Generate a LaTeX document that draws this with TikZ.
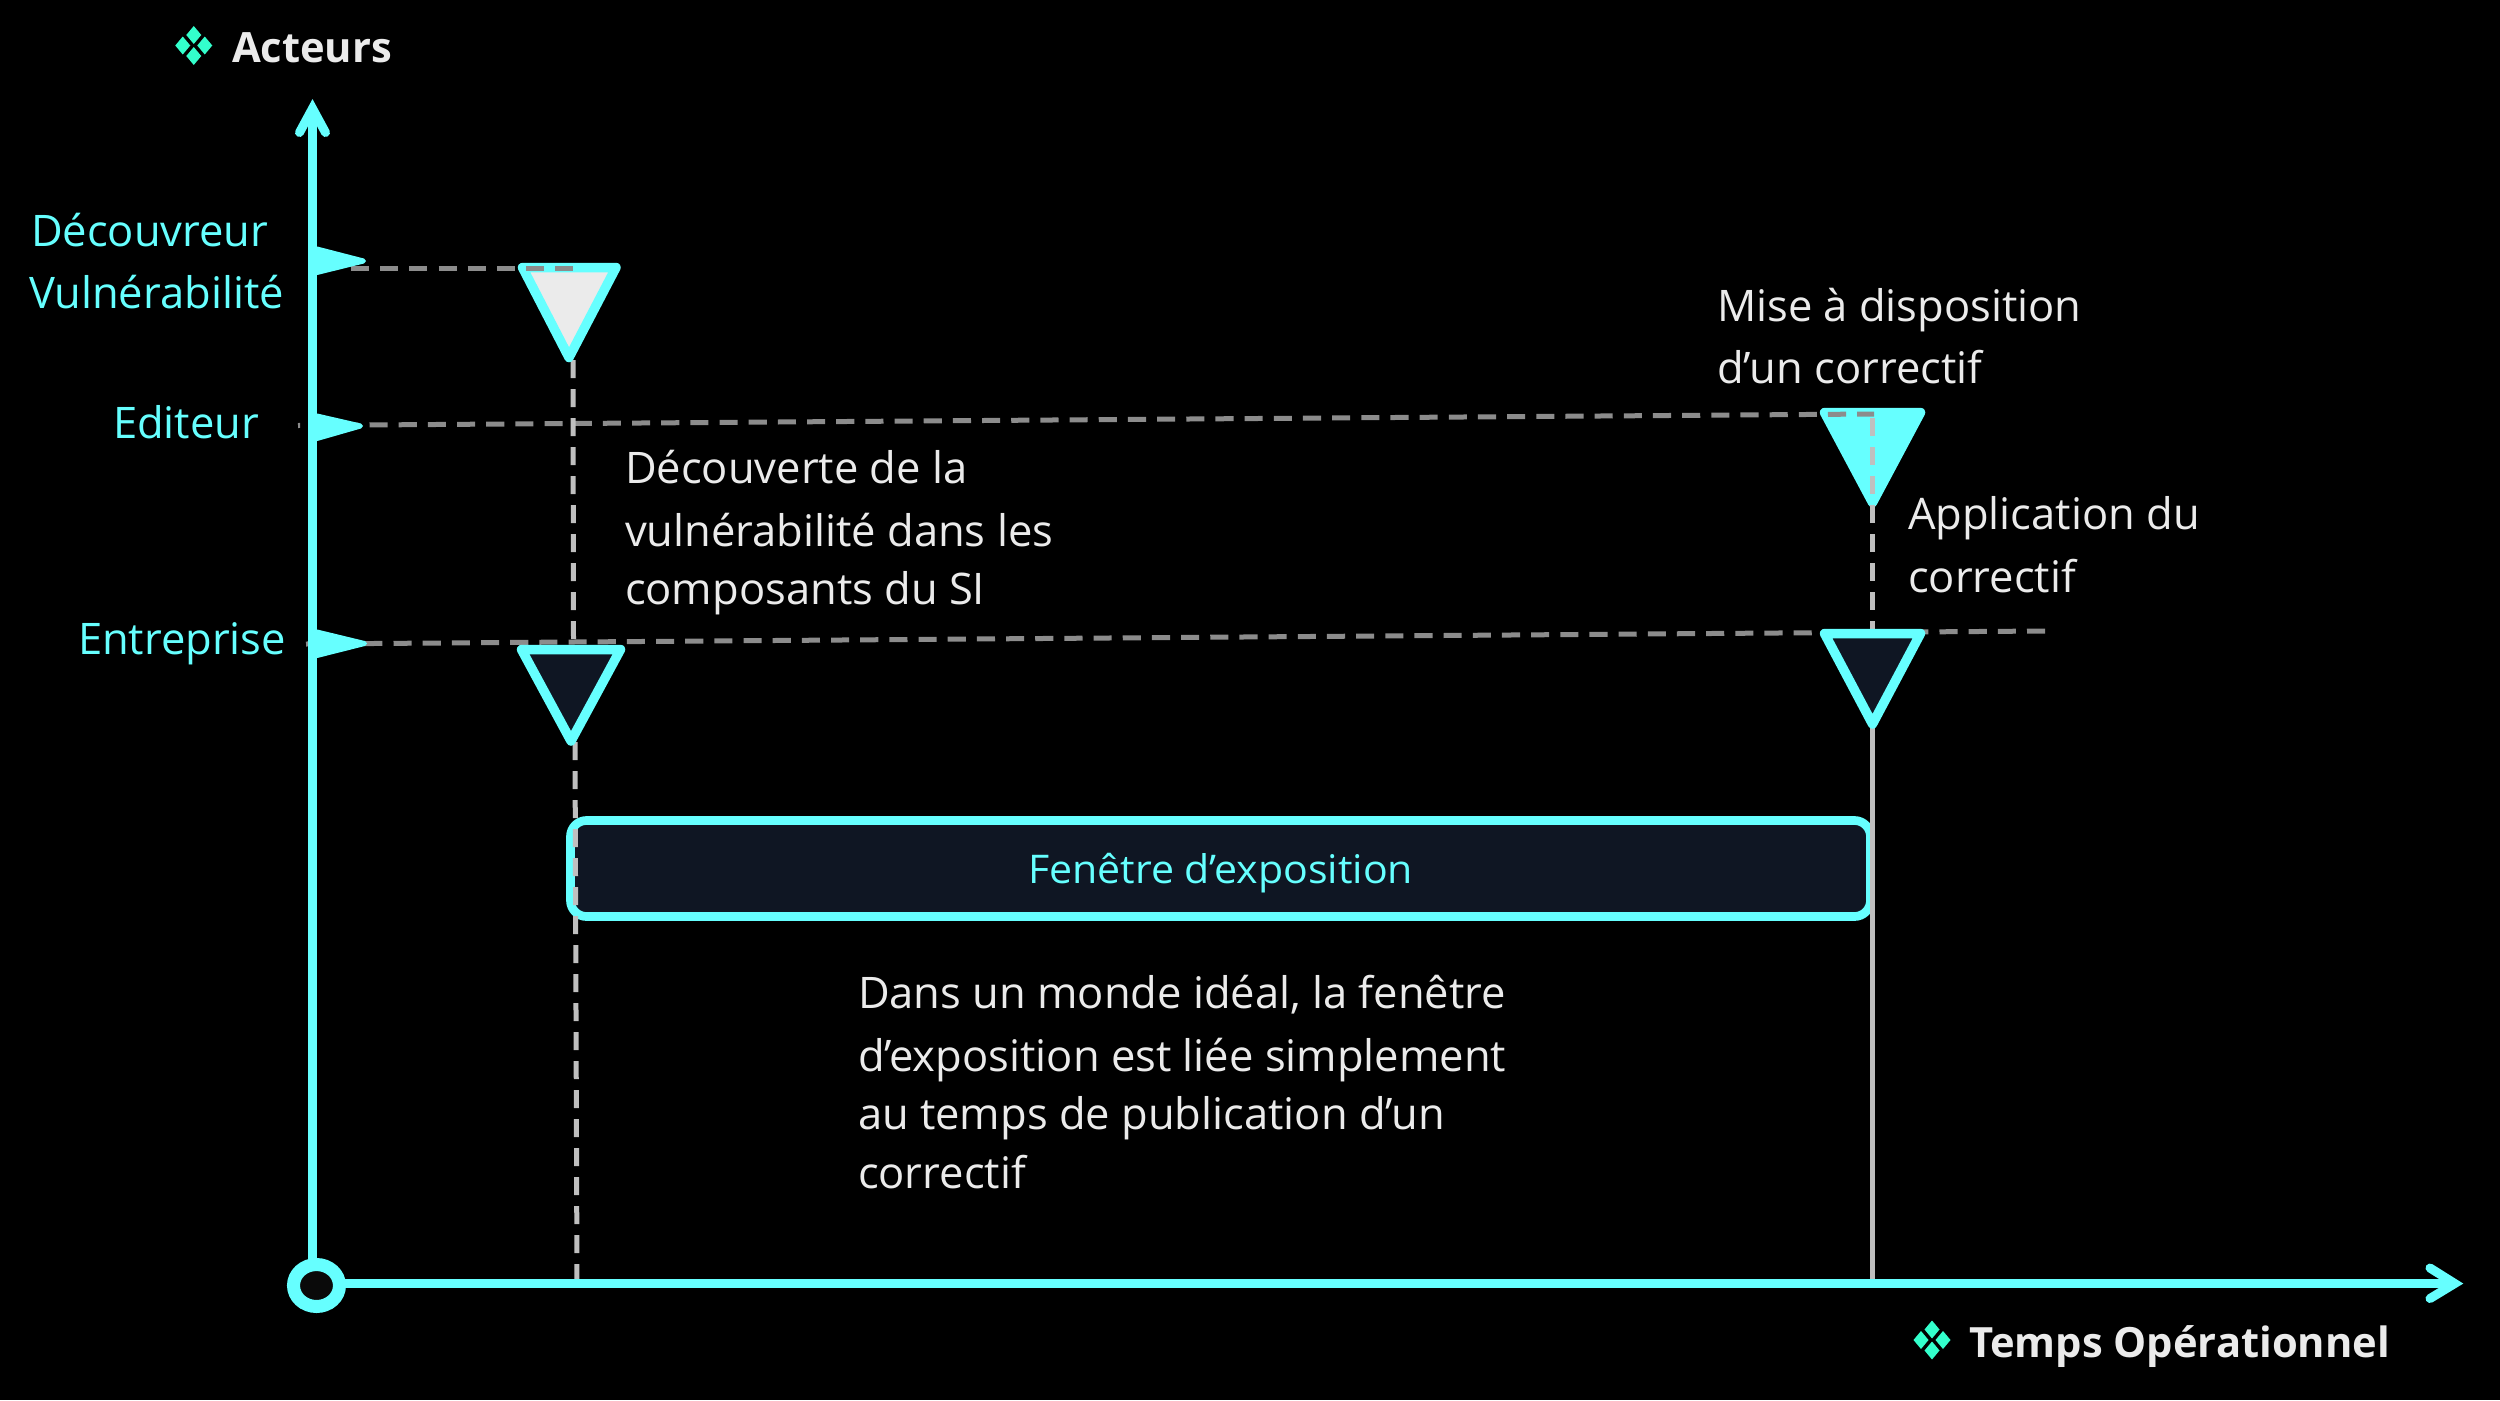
\documentclass[tikz,border=0pt]{standalone}
\usepackage{fontspec}
\setmainfont{Open Sans}
\newfontfamily\wide[FakeStretch=1.04]{Open Sans}
\definecolor{cyanline}{HTML}{66FFFF}
\definecolor{bgdark}{HTML}{0F1623}
\definecolor{greyh}{HTML}{8C8C8C}
\definecolor{greyv}{HTML}{BFBFBF}
\definecolor{txt}{HTML}{EBEBEB}
\definecolor{mint}{HTML}{33FFCC}
\tikzset{
 body/.style={anchor=base west,inner sep=0pt,outer sep=0pt,text=txt,yshift=-1pt,font=\fontsize{43.5}{43.5}\selectfont},
 actor/.style={body,text=cyanline},
 windowlabel/.style={body,text=cyanline,font=\wide\fontsize{39.5}{39.5}\selectfont},
 head/.style={body,font=\bfseries\fontsize{41.7}{41.7}\selectfont},
 axisline/.style={draw=cyanline,line width=9pt},
 chevron/.style={draw=cyanline,line width=9pt,line cap=round,miter limit=10},
 flag/.style={fill=cyanline,draw=cyanline,line width=5pt,line join=round},
 tri/.style={draw=cyanline,line width=9.5pt,line join=round},
 hdash/.style={draw=greyh,line width=5pt,dash pattern=on 18.1pt off 11.07pt},
 vdash/.style={draw=greyv,line width=5pt,dash pattern=on 18pt off 11pt},
 vsolid/.style={draw=greyv,line width=5pt},
 gem/.style={fill=mint,draw=none},
}
\newcommand{\gemicon}[2]{%
 \foreach \dx/\dy in {0/-10.5,-11/0,11/0,0/10.5}{
  \fill[gem] (#1+\dx-7.5,#2+\dy) -- (#1+\dx,#2+\dy-9) -- (#1+\dx+7.5,#2+\dy) -- (#1+\dx,#2+\dy+9) -- cycle;
 }}
\begin{document}
\begin{tikzpicture}[x=1pt,y=-1pt]
\fill[black] (0,0) rectangle (2500,1400);
\useasboundingbox (0,0) rectangle (2500,1400);
% named points
\coordinate (o) at (312.5,1283.5);
\coordinate (ytop) at (312.5,108);
\coordinate (xend) at (2455,1283.5);
\coordinate (d1a) at (351,268); \coordinate (d1b) at (574,268);
\coordinate (d2a) at (298,425.5); \coordinate (d2b) at (1874,414);
\coordinate (d3a) at (306,644); \coordinate (d3b) at (2045,631);
\coordinate (v1a) at (573,360); \coordinate (v1b) at (573.5,640);
\coordinate (v2a) at (575,742); \coordinate (v2b) at (577,1282);
\coordinate (v3a) at (1872.5,418); \coordinate (v3b) at (1872.5,630);
\coordinate (v4a) at (1872.5,726); \coordinate (v4b) at (1872.5,1282);
% lines under
\draw[hdash] (d3a) -- (d3b);
% triangle 2
\draw[tri,fill=cyanline] (1824.5,412.5) -- (1920.5,412.5) -- (1872.5,502.5) -- cycle;
\draw[hdash,dash phase=16pt] (d2a) -- (d2b);
\draw[vdash] (v1a) -- (v1b);
\draw[vdash] (v3a) -- (v3b);
% triangle 1
\draw[tri,fill=txt] (522.5,267.5) -- (616,267.5) -- (569,357.5) -- cycle;
\draw[hdash] (d1a) -- (d1b);
% exposure box
\draw[cyanline,fill=bgdark,line width=8.7pt,rounded corners=16pt] (570.5,820.5) rectangle (1870.5,916.5);
\draw[vdash] (v2a) -- (v2b);
\draw[vsolid] (v4a) -- (v4b);
% triangles 3,4
\draw[tri,fill=bgdark] (521.5,649.5) -- (620.5,649.5) -- (571,741) -- cycle;
\draw[tri,fill=bgdark] (1824.5,633.5) -- (1920.5,633.5) -- (1872.5,724) -- cycle;
% axes
\draw[axisline] (o) -- (ytop);
\draw[axisline] (o) -- (xend);
\draw[chevron] (299.5,132.5) -- (312.5,108.5) -- (325.5,132.5);
\draw[chevron] (2430,1268) -- (2454.7,1283.5) -- (2430,1298.5);
\draw[draw=cyanline,fill=black!96!white,line width=13pt] (316.5,1285.5) ellipse [x radius=23,y radius=21];
\draw[flag] (317,249) -- (363.5,261) -- (317,272.5) -- cycle;
\draw[flag] (317,416) -- (360.5,426) -- (317,438.5) -- cycle;
\draw[flag] (317,632) -- (364.5,643.5) -- (317,655.5) -- cycle;
% icons
\gemicon{193.75}{45.5}
\gemicon{1932}{1340}
% text
\node[head] (acteurs) at (232,61) {Acteurs};
\node[head] (temps) at (1969,1356) {Temps Opérationnel};
\node[actor] (a1) at (31,245) {Découvreur};
\node[actor] (a2) at (29,307) {Vulnérabilité};
\node[actor] (a3) at (113,437) {Editeur};
\node[actor] (a4) at (78,653) {Entreprise};
\node[body] (m1) at (1717,320) {Mise à disposition};
\node[body] (m2) at (1717,382) {d’un correctif};
\node[body] (p1) at (1908,528) {Application du};
\node[body] (p2) at (1908,591) {correctif};
\node[body] (c1) at (625,482.5) {Découverte de la};
\node[body] (c2) at (625,545) {vulnérabilité dans les};
\node[body] (c3) at (625,603) {composants du SI};
\node[windowlabel] (f) at (1028,882) {Fenêtre d’exposition};
\node[body] (i1) at (858,1007.5) {Dans un monde idéal, la fenêtre};
\node[body] (i2) at (858,1070) {d’exposition est liée simplement};
\node[body] (i3) at (858,1128.5) {au temps de publication d’un};
\node[body] (i4) at (858,1187) {correctif};
\end{tikzpicture}
\end{document}
